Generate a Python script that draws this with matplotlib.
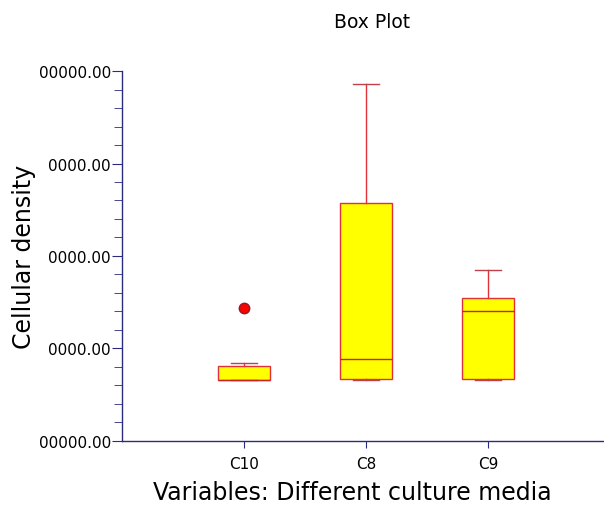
import matplotlib
matplotlib.use("Agg")
import matplotlib.pyplot as plt
from matplotlib.ticker import FixedLocator, FixedFormatter, AutoMinorLocator

# Box statistics
groups = ["C10", "C8", "C9"]
whislo = [65900, 65900, 65900]
q1 = [65900, 67400, 67000]
med = [65900, 88300, 140500]
q3 = [80800, 257300, 155100]
whishi = [84000, 386300, 185200]
fliers = [[144100], [], []]

yticks = [0, 100000, 200000, 300000, 400000]
ytick_labels = ["00000.00", "0000.00", "0000.00", "0000.00", "00000.00"]

navy = "#2B2B80"
edge = "#E0303A"

stats = []
for i, name in enumerate(groups):
    stats.append({"label": name, "whislo": whislo[i], "q1": q1[i], "med": med[i],
                  "q3": q3[i], "whishi": whishi[i], "fliers": fliers[i]})

fig = plt.figure(figsize=(6.04, 5.06), dpi=100)
ax = fig.add_axes([0.202, 0.1265, 0.798, 0.7312])

ax.bxp(stats, positions=[1, 2, 3], widths=0.42, patch_artist=True,
       boxprops=dict(facecolor="#FFFF00", edgecolor=edge, linewidth=1.0),
       medianprops=dict(color="#C0282E", linewidth=1.0),
       whiskerprops=dict(color=edge, linewidth=1.0),
       capprops=dict(color="#C0404A", linewidth=1.0),
       capwidths=0.21,
       flierprops=dict(marker="o", markerfacecolor="#FF0000",
                       markeredgecolor="#8B1A2A", markersize=7.5))

ax.set_xlim(0, 3.95)
ax.set_ylim(0, 400000)

ax.yaxis.set_major_locator(FixedLocator(yticks))
ax.yaxis.set_major_formatter(FixedFormatter(ytick_labels))
ax.yaxis.set_minor_locator(AutoMinorLocator(5))

for s in ["top", "right"]:
    ax.spines[s].set_visible(False)
for s in ["left", "bottom"]:
    ax.spines[s].set_color(navy)
    ax.spines[s].set_linewidth(1.0)

ax.tick_params(axis="y", which="major", direction="out", length=7, color=navy,
               labelsize=11, pad=1)
ax.tick_params(axis="y", which="minor", direction="out", length=6, color=navy)
ax.tick_params(axis="x", which="major", direction="out", length=5, color=navy,
               labelsize=11, pad=6)

fig.text(372 / 604, 1 - 22 / 506, "Box Plot", fontsize=13.5, ha="center", va="center")
ax.set_ylabel("Cellular density", fontsize=17, labelpad=2)
ax.set_xlabel("Variables: Different culture media", fontsize=17, labelpad=8)
ax.xaxis.set_label_coords((352 - 122) / (604 - 122), -0.105)
ax.xaxis.label.set_va("top")

fig.savefig("out.png", dpi=100)
